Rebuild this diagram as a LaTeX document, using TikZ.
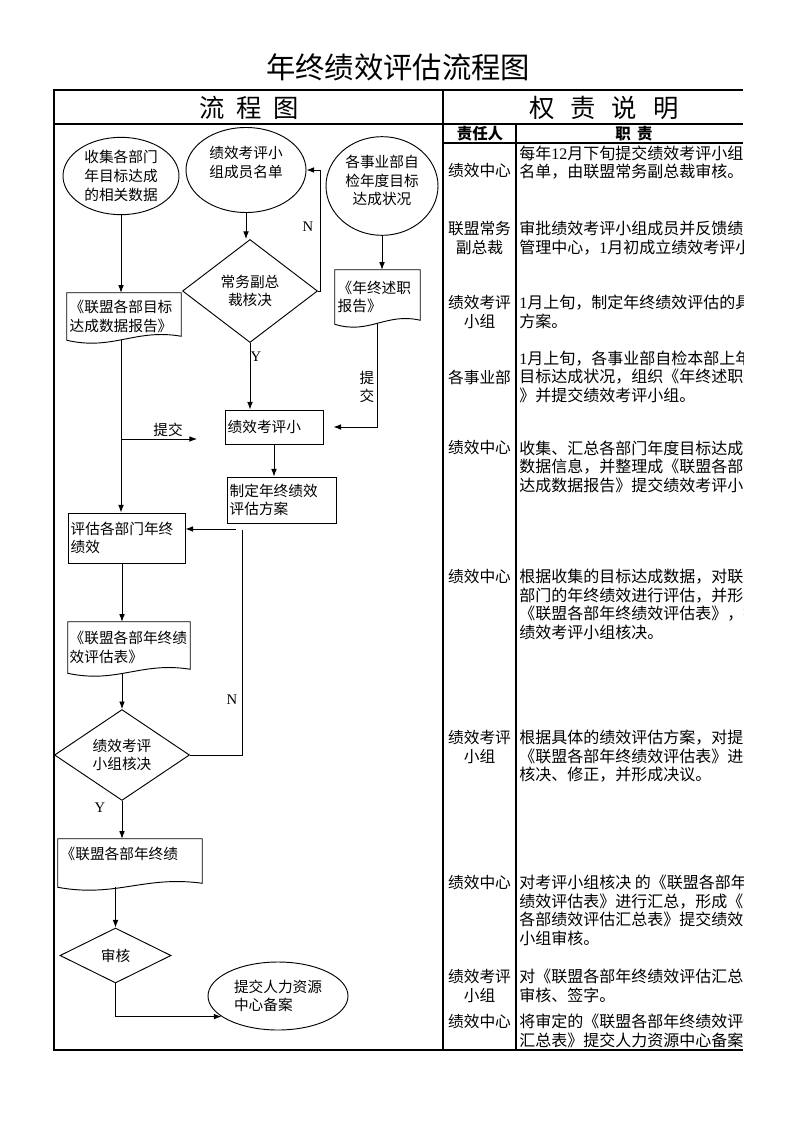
\documentclass[tikz,border=0pt]{standalone}
\usepackage{fontspec}
\setmainfont{Noto Sans CJK SC}
\newfontfamily\lat{Liberation Serif}
\usepackage{tikz}
\usetikzlibrary{arrows.meta,shapes.geometric,positioning,calc}

\begin{document}
\begin{tikzpicture}[x=0.75pt, y=-0.75pt,
  every node/.style={inner sep=0pt, font=\fontsize{11}{14}\selectfont},
  oval/.style={draw, ellipse, line width=0.7pt, align=center},
  choice/.style={draw, diamond, line width=0.7pt, align=center},
  stepbox/.style={draw, rectangle, line width=0.7pt, align=left, inner xsep=2pt},
  paper/.style={rectangle, align=left, inner xsep=2pt},
  flow/.style={line width=0.7pt, -{Latex[length=2mm]}},
  link/.style={line width=0.7pt},
  yn/.style={font=\lat\fontsize{11}{13}\selectfont},
  who/.style={align=center, font=\fontsize{11.8}{13.9}\selectfont},
  duty/.style={anchor=west, align=left, font=\fontsize{12}{13.9}\selectfont},
  rule/.style={line width=1.5pt}]

  \useasboundingbox (0,0) rectangle (794,1123);

  % title and table frame
  \node[font=\fontsize{22}{26}\selectfont] at (398,67) (title) {年终绩效评估流程图};
  \draw[rule] (743,90) -- (54,90) -- (54,1050) -- (743,1050);
  \draw[rule] (54,124) -- (743,124);
  \draw[rule] (443,90) -- (443,1050);
  \draw[line width=1.2pt] (443,143) -- (743,143);
  \draw[line width=1.8pt] (516,124) -- (516,1050);
  \node[font=\fontsize{19}{22}\selectfont] at (249,108) (flowhd) {流\hspace{0.45em}程\hspace{0.45em}图};
  \node[font=\fontsize{19}{22}\selectfont] at (604,108) (dutyhd) {权\hspace{0.63em}责\hspace{0.63em}说\hspace{0.63em}明};
  \node[font=\bfseries\fontsize{11.6}{13}\selectfont] at (480,134) (whohd) {责任人};
  \node[font=\bfseries\fontsize{11.6}{13}\selectfont] at (634,134) (jobhd) {职\hspace{0.4em}责};

  % flow chart
  \node[oval, minimum width=87pt, minimum height=58pt] at (121,176) (gather) {收集各部门\\年目标达成\\的相关数据};
  \node[oval, minimum width=90pt, minimum height=63.75pt] at (246,170) (member) {绩效考评小\\组成员名单\\[-2pt]\mbox{}};
  \node[oval, minimum width=84pt, minimum height=74pt] at (382,186) (selfchk) {各事业部自\\检年度目标\\达成状况\\[-5pt]\mbox{}};
  \node[choice, minimum width=101.25pt, minimum height=77.25pt] at (250,291) (vpok) {常务副总\\裁核决};
  \node[paper, text width=81.5pt, minimum height=35.25pt] at (124,316.5) (datarep) {《联盟各部目标\\达成数据报告》};
  \node[paper, text width=59.75pt, minimum height=40.5pt] at (377.5,297) (report) {《年终述职\\报告》};
  \node[stepbox, text width=69.5pt, minimum height=25.5pt] at (274,427) (group) {绩效考评小};
  \node[stepbox, text width=77.75pt, minimum height=34.5pt] at (281.5,500) (plan) {制定年终绩效\\评估方案};
  \node[stepbox, text width=83.75pt, minimum height=37.5pt] at (126.5,538) (assess) {评估各部门年终\\绩效};
  \node[paper, text width=89pt, inner xsep=1.25pt, minimum height=38.25pt] at (129,647.5) (evaltab) {《联盟各部年终绩\\效评估表》};
  \node[choice, minimum width=101.25pt, minimum height=64.5pt] at (122,755) (grpok) {绩效考评\\小组核决};
  \node[paper, text width=104pt, minimum height=36pt] at (130,863) (sumtab) {《联盟各部年终绩\\\mbox{}};
  \node[choice, minimum width=83.25pt, minimum height=41.25pt] at (115.5,955.5) (audit) {审核};
  \node[oval, align=left, minimum width=105pt, minimum height=51pt] at (278,996) (archive) {提交人力资源\\中心备案};

  % document outlines
  \foreach \d in {datarep,report,evaltab,sumtab}
    \draw[link] (\d.north west) -- (\d.north east) -- ([yshift=3pt]\d.south east)
      .. controls ($(\d.south east)!0.4!(\d.south west)+(0pt,9pt)$) and ($(\d.south east)!0.6!(\d.south west)+(0pt,-8pt)$) .. (\d.south west) -- cycle;

  \coordinate (tip) at (197,439);
  \coordinate (loop) at (242,530);
  \coordinate (back) at (236,529);

  \draw[flow] (gather.south) -- (gather.south |- datarep.north);
  \draw[flow] (member.south) -- (member.south |- vpok.north);
  \draw[flow] (selfchk.south) -- (selfchk.south |- report.north);
  \draw[flow] (vpok.east) -- ++(2,0) |- (member.east);
  \draw[flow] (vpok.south) -- (vpok.south |- group.north);
  \draw[flow, shorten >=7.5pt] (report.south) |- (group.east);
  \draw[flow] (datarep.south -| gather.south) -- (gather.south |- assess.north);
  \draw[flow] (gather.south |- tip) -- (tip);
  \draw[flow] (group.south) -- (group.south |- plan.north);
  \draw[flow] (back) -- (back -| assess.east);
  \draw[link] (grpok.east) -| (loop);
  \draw[flow] (assess.south -| grpok.north) -- (evaltab.north -| grpok.north);
  \draw[flow] (evaltab.south -| grpok.north) -- (grpok.north);
  \draw[flow] (grpok.south) -- (grpok.south |- sumtab.north);
  \draw[flow] (sumtab.south -| audit.north) -- (audit.north);
  \draw[flow] (audit.south) |- (archive.200);

  \node[yn] at (308,227) (n1) {N};
  \node[yn] at (256,357) (y1) {Y};
  \node[yn] at (232,700) (n2) {N};
  \node[yn] at (100,808) (y2) {Y};
  \node at (168,430) (sub1) {提交};
  \node[align=center] at (367,387) (sub2) {提\\交};

  % responsibilities
  \node[who] at (479.5,171) (w1) {绩效中心};
  \node[who] at (479.5,238) (w2) {联盟常务\\副总裁};
  \node[who] at (479.5,312) (w3) {绩效考评\\小组};
  \node[who] at (479.5,377) (w4) {各事业部};
  \node[who] at (479.5,448) (w5) {绩效中心};
  \node[who] at (479.5,577) (w6) {绩效中心};
  \node[who] at (479.5,747) (w7) {绩效考评\\小组};
  \node[who] at (479.5,883) (w8) {绩效中心};
  \node[who] at (479.5,986) (w9) {绩效考评\\小组};
  \node[who] at (479.5,1022) (w10) {绩效中心};

  \begin{scope}
    \clip (517,144) rectangle (743,1049);
    \node[duty] at (519,162.5) (j1) {每年{\lat 12}月下旬提交绩效考评小组成员\\名单，由联盟常务副总裁审核。};
    \node[duty] at (519,238) (j2) {审批绩效考评小组成员并反馈绩效\\管理中心，{\lat 1}月初成立绩效考评小组。};
    \node[duty] at (519,312) (j3) {{\lat 1}月上旬，制定年终绩效评估的具体\\方案。};
    \node[duty] at (519,376.5) (j4) {{\lat 1}月上旬，各事业部自检本部上年度\\目标达成状况，组织《年终述职报告\\》并提交绩效考评小组。};
    \node[duty] at (519,466.5) (j5) {收集、汇总各部门年度目标达成\\数据信息，并整理成《联盟各部目标\\达成数据报告》提交绩效考评小组。};
    \node[duty] at (519,604.5) (j6) {根据收集的目标达成数据，对联盟各\\部门的年终绩效进行评估，并形成\\《联盟各部年终绩效评估表》，提交\\绩效考评小组核决。};
    \node[duty] at (519,756.5) (j7) {根据具体的绩效评估方案，对提交的\\《联盟各部年终绩效评估表》进行\\核决、修正，并形成决议。};
    \node[duty] at (519,910.5) (j8) {对考评小组核决 的《联盟各部年终\\绩效评估表》进行汇总，形成《联盟\\各部绩效评估汇总表》提交绩效考评\\小组审核。};
    \node[duty] at (519,986) (j9) {对《联盟各部年终绩效评估汇总表》\\审核、签字。};
    \node[duty] at (519,1031) (j10) {将审定的《联盟各部年终绩效评估\\汇总表》提交人力资源中心备案。};
  \end{scope}
\end{tikzpicture}
\end{document}
